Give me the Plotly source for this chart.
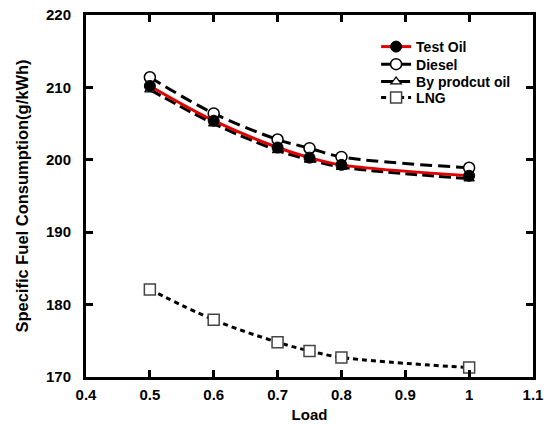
import plotly.graph_objects as go

load = [0.5, 0.6, 0.7, 0.75, 0.8, 1.0]
test_oil = [210.2, 205.4, 201.7, 200.3, 199.3, 197.8]
diesel = [211.4, 206.4, 202.8, 201.6, 200.4, 198.9]
by_product = [209.7, 205.0, 201.3, 200.0, 199.0, 197.4]
lng = [182.1, 177.9, 174.8, 173.6, 172.7, 171.3]

x_ticks = [0.4, 0.5, 0.6, 0.7, 0.8, 0.9, 1.0, 1.1]
x_ticktext = ["0.4", "0.5", "0.6", "0.7", "0.8", "0.9", "1", "1.1"]
y_ticks = [170, 180, 190, 200, 210, 220]

FONT = "Liberation Sans, Arial, sans-serif"

fig = go.Figure()

fig.add_trace(go.Scatter(
    x=load, y=diesel, name="Diesel", mode="lines+markers", legend="legend2",
    line=dict(color="black", width=3, dash="12px,6px", shape="spline"),
    marker=dict(symbol="circle", size=11, color="white", line=dict(color="black", width=1.5)),
))
fig.add_trace(go.Scatter(
    x=load, y=by_product, name="By prodcut oil", mode="lines+markers", legend="legend3",
    line=dict(color="black", width=3, dash="12px,5px", shape="spline"),
    marker=dict(symbol="triangle-up", size=9, color="white", line=dict(color="black", width=1.2)),
))
fig.add_trace(go.Scatter(
    x=load, y=test_oil, name="Test Oil", mode="lines+markers", legend="legend",
    line=dict(color="#e00000", width=3, shape="spline"),
    marker=dict(symbol="circle", size=11, color="black", line=dict(color="black", width=1)),
))
fig.add_trace(go.Scatter(
    x=load, y=lng, name="LNG", mode="lines+markers", legend="legend4",
    line=dict(color="black", width=3, dash="5px,4px", shape="spline"),
    marker=dict(symbol="square", size=11, color="white", line=dict(color="#444", width=1.5)),
))

axis_common = dict(
    showline=True, linecolor="black", linewidth=3, mirror="allticks",
    ticks="inside", ticklen=7, tickwidth=3, tickcolor="black",
    showgrid=False, zeroline=False, automargin=False,
    tickfont=dict(family=FONT, size=15, color="black", weight="bold"),
)

fig.update_xaxes(
    range=[0.4, 1.1], tickvals=x_ticks, ticktext=x_ticktext, ticklabelstandoff=2,
    title=dict(text="Load", font=dict(family=FONT, size=15, color="black", weight="bold"), standoff=8),
    **axis_common,
)
fig.update_yaxes(
    range=[170, 220], tickvals=y_ticks, ticklabelstandoff=9,
    title=dict(text="Specific Fuel Consumption(g/kWh)", font=dict(family=FONT, size=16.5, color="black", weight="bold"), standoff=14),
    **axis_common,
)

leg_font = dict(family=FONT, size=14, color="black", weight="bold")
leg_common = dict(x=0.649, xanchor="left", yanchor="middle", bgcolor="rgba(0,0,0,0)",
                  borderwidth=0, font=leg_font, itemwidth=30)

fig.update_layout(
    width=550, height=427,
    margin=dict(l=86, r=17, t=15, b=50),
    plot_bgcolor="white", paper_bgcolor="white",
    legend=dict(y=0.9116, **leg_common),
    legend2=dict(y=0.863, **leg_common),
    legend3=dict(y=0.815, **leg_common),
    legend4=dict(y=0.771, **leg_common),
    showlegend=True,
)

fig.write_html("out.html", config={"displayModeBar": False},
               post_script="document.body.style.margin='0';")
